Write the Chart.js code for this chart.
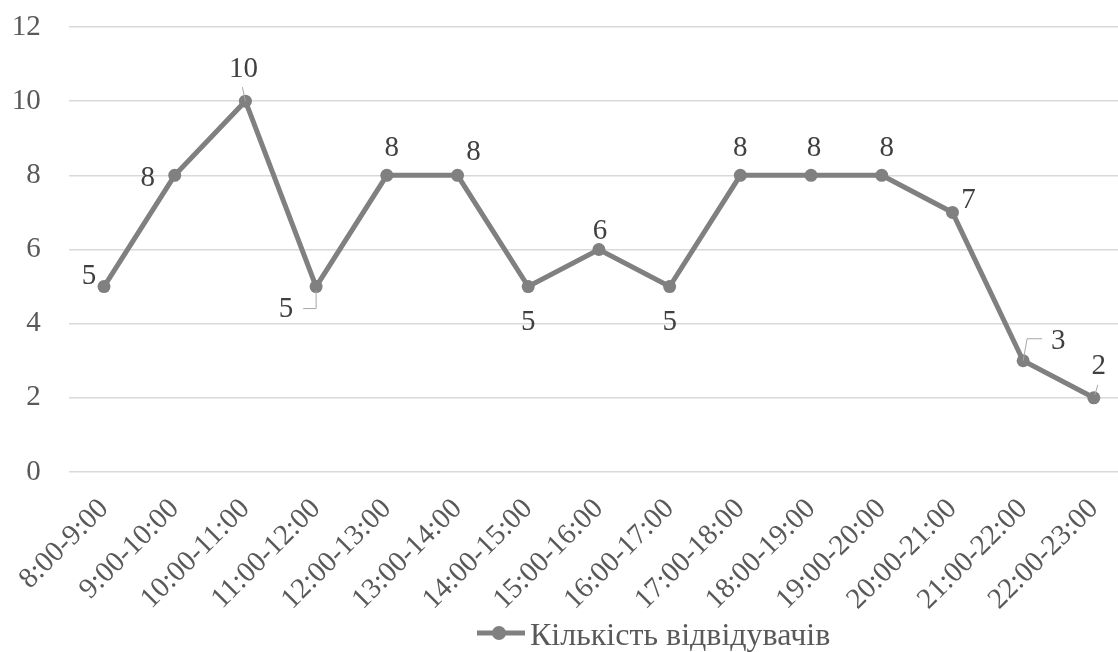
<!DOCTYPE html>
<html lang="uk">
<head>
  <meta charset="utf-8" />
  <title>Кількість відвідувачів</title>
  <script src="https://cdn.jsdelivr.net/npm/chart.js@4/dist/chart.umd.min.js"></script>
  <style>
    html, body { margin: 0; padding: 0; background: #fff; overflow: hidden; }
    #wrap { width: 1140px; height: 652px; }
  </style>
</head>
<body>
  <div id="wrap"><canvas id="chart" width="1140" height="652"></canvas></div>

  <script>
    // дані
    const hours = ['8:00-9:00', '9:00-10:00', '10:00-11:00', '11:00-12:00', '12:00-13:00',
                   '13:00-14:00', '14:00-15:00', '15:00-16:00', '16:00-17:00', '17:00-18:00',
                   '18:00-19:00', '19:00-20:00', '20:00-21:00', '21:00-22:00', '22:00-23:00'];
    const visitors = [5, 8, 10, 5, 8, 8, 5, 6, 5, 8, 8, 8, 7, 3, 2];
    const seriesName = 'Кількість відвідувачів';

    // куди ставити підписи (зсув від точки) і які мають виноски
    const labelShift = [[-15,-10],[-27,3],[-2,-32],[-30,23],[5,-27],[16,-23],[0,36],[1,-18],
                        [0,36],[0,-27],[3,-27],[5,-27],[16,-12],[35,-19],[5,-31]];
    const leaders = {
      2:  [[0,0],[-3,-14]],
      3:  [[0,4],[0,22],[-13,22]],
      13: [[0,0],[4,-22],[19,-22]],
      14: [[1,-3],[4,-13]]
    };

    const GREY = '#808080';
    const FONT = "'Liberation Serif'";

    const dataLabels = {
      id: 'dataLabels',
      afterDatasetsDraw(chart) {
        const ctx = chart.ctx;
        const pts = chart.getDatasetMeta(0).data;
        ctx.save();
        // виноски
        ctx.strokeStyle = '#a6a6a6';
        ctx.lineWidth = 1;
        Object.keys(leaders).forEach(k => {
          const p = pts[k];
          ctx.beginPath();
          leaders[k].forEach(([dx, dy], j) => {
            if (j === 0) ctx.moveTo(p.x + dx, p.y + dy);
            else ctx.lineTo(p.x + dx, p.y + dy);
          });
          ctx.stroke();
        });
        ctx.fillStyle = '#404040';
        ctx.font = '29px ' + FONT;
        ctx.textAlign = 'center';
        ctx.textBaseline = 'middle';
        pts.forEach((p, i) => {
          const [dx, dy] = labelShift[i];
          ctx.fillText(String(visitors[i]), p.x + dx, p.y + dy);
        });
        // легенда
        const ly = 633;
        ctx.strokeStyle = GREY;
        ctx.lineWidth = 5;
        ctx.beginPath();
        ctx.moveTo(477, ly);
        ctx.lineTo(525, ly);
        ctx.stroke();
        ctx.fillStyle = GREY;
        ctx.beginPath();
        ctx.arc(499, ly, 7, 0, Math.PI * 2);
        ctx.fill();
        ctx.fillStyle = '#595959';
        ctx.font = '32px ' + FONT;
        ctx.textAlign = 'left';
        ctx.textBaseline = 'alphabetic';
        ctx.fillText(seriesName, 530, 645);
        ctx.restore();
      }
    };

    Chart.defaults.font.family = FONT;

    new Chart(document.getElementById('chart'), {
      type: 'line',
      data: {
        labels: hours,
        datasets: [{
          label: seriesName,
          data: visitors,
          borderColor: GREY,
          backgroundColor: GREY,
          borderWidth: 5,
          pointRadius: 6.5,
          pointBorderWidth: 0,
          pointBackgroundColor: GREY,
          tension: 0
        }]
      },
      options: {
        responsive: false,
        animation: false,
        layout: { padding: { top: 27, right: 10.8, bottom: 0, left: 0 } },
        plugins: { legend: { display: false }, tooltip: { enabled: false } },
        scales: {
          x: {
            offset: true,
            grid: { display: false, drawTicks: false },
            border: { display: false },
            ticks: {
              color: '#595959',
              font: { family: FONT, size: 29 },
              minRotation: 45, maxRotation: 45,
              autoSkip: false,
              padding: 20
            },
            afterFit: s => { s.height = 180; s.paddingLeft = 0; s.paddingRight = 0; }
          },
          y: {
            min: 0, max: 12,
            grid: { color: '#d9d9d9', lineWidth: 1.5, drawTicks: false },
            border: { display: false },
            ticks: {
              stepSize: 2,
              color: '#595959',
              font: { family: FONT, size: 29 },
              padding: 28
            },
            afterFit: s => { s.width = 68.65; s.paddingTop = 0; s.paddingBottom = 0; }
          }
        }
      },
      plugins: [dataLabels]
    });
  </script>
</body>
</html>
